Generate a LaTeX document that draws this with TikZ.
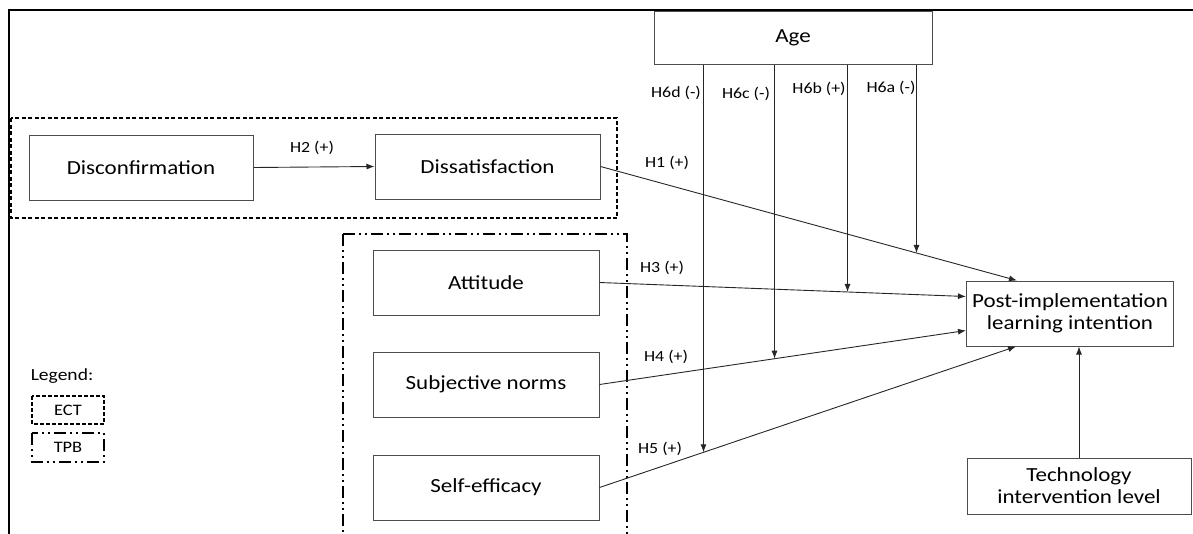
\documentclass[tikz,border=0pt]{standalone}
\usepackage{fontspec}
\setmainfont{Carlito}[FakeStretch=1.15]
\usetikzlibrary{arrows.meta,intersections,calc}
\tikzset{
  box/.style={draw=black!70, line width=1pt, inner sep=0pt, align=center, font=\fontsize{20}{22}\selectfont},
  hlab/.style={inner sep=0pt, font=\fontsize{15.5}{17}\selectfont},
  conn/.style={draw=black!85, line width=0.9pt, -{Latex[length=8pt,width=6pt]}},
  ectline/.style={draw=black, line width=1.5pt, dash pattern=on 4pt off 2.5pt},
  tpbline/.style={draw=black, line width=1.5pt, dash pattern=on 12pt off 4pt on 2pt off 4pt on 2pt off 4pt},
}
\begin{document}
\begin{tikzpicture}[x=1pt,y=-1pt]
\useasboundingbox (0,0) rectangle (1193,533);
% frame
\draw[line width=2pt] (9,534) -- (9,10) -- (1194,10);
% groups
\draw[ectline] (11,118) rectangle (617,218);
\draw[tpbline] (343,234) -- (627,234) -- (627,540) (343,234) -- (343,540);
% nodes
\node[box, minimum width=278pt, minimum height=53pt] (age) at (793,37.5) {Age};
\node[box, minimum width=224pt, minimum height=65pt] (disc) at (141,167.5) {Disconfirmation};
\node[box, minimum width=225pt, minimum height=65pt] (diss) at (487.5,166.5) {Dissatisfaction};
\node[box, minimum width=226pt, minimum height=65pt] (att) at (486,282.5) {Attitude};
\node[box, minimum width=226pt, minimum height=65pt] (sub) at (486,384.5) {Subjective norms};
\node[box, minimum width=226pt, minimum height=65pt] (self) at (486,487.5) {Self-efficacy};
\node[box, minimum width=207pt, minimum height=65pt] (post) at (1070,313.5) {Post-implementation\\learning intention};
\node[box, minimum width=224pt, minimum height=56pt] (tech) at (1079,486) {Technology\\intervention level};
% main connectors
\draw[conn] (disc.east) -- (diss.west);
\path[name path=h1] (diss.east) -- ($(post.north west)+(51,0)$);
\draw[conn] (diss.east) -- ($(post.north west)+(51,0)$);
\path[name path=h3] (att.east) -- ($(post.west)+(0,-17)$);
\draw[conn] (att.east) -- ($(post.west)+(0,-17)$);
\path[name path=h4] (sub.east) -- ($(post.west)+(0,17)$);
\draw[conn] (sub.east) -- ($(post.west)+(0,17)$);
\path[name path=h5] (self.east) -- ($(post.south west)+(50,0)$);
\draw[conn] (self.east) -- ($(post.south west)+(50,0)$);
\draw[conn] (tech.north) -- (post.south -| tech.north);
% moderators
\coordinate (m6d) at ($(age.south west)+(50,0)$);
\coordinate (m6c) at ($(age.south west)+(121,0)$);
\coordinate (m6b) at ($(age.south west)+(194,0)$);
\coordinate (m6a) at ($(age.south west)+(263,0)$);
\path[name path=v6d] (m6d) -- ++(0,500);
\path[name path=v6c] (m6c) -- ++(0,500);
\path[name path=v6b] (m6b) -- ++(0,500);
\path[name path=v6a] (m6a) -- ++(0,500);
\path[name intersections={of=v6d and h5, by=i6d}];
\path[name intersections={of=v6c and h4, by=i6c}];
\path[name intersections={of=v6b and h3, by=i6b}];
\path[name intersections={of=v6a and h1, by=i6a}];
\draw[conn] (m6d) -- (i6d);
\draw[conn] (m6c) -- (i6c);
\draw[conn] (m6b) -- (i6b);
\draw[conn] (m6a) -- (i6a);
% labels
\node[hlab] (l2) at (312,148) {H2 (+)};
\node[hlab] (l1) at (667,163) {H1 (+)};
\node[hlab] (l3) at (662,268) {H3 (+)};
\node[hlab] (l4) at (666,357) {H4 (+)};
\node[hlab] (l5) at (660,449) {H5 (+)};
\node[hlab] (l6d) at (676,93) {H6d (-)};
\node[hlab] (l6c) at (746,94) {H6c (-)};
\node[hlab] (l6b) at (819,89) {H6b (+)};
\node[hlab] (l6a) at (891,88) {H6a (-)};
% legend
\node[inner sep=0pt, font=\fontsize{17}{19}\selectfont] (leg) at (62,376) {Legend:};
\draw[draw=black, line width=1.3pt, dash pattern=on 4pt off 2pt] (32,396) rectangle (104,424);
\node[hlab, font=\fontsize{16}{18}\selectfont] (ect) at (68,410) {ECT};
\draw[draw=black, line width=1.3pt, dash pattern=on 12pt off 4pt on 2pt off 4pt on 2pt off 4pt] (32,433) rectangle (104,462);
\node[hlab, font=\fontsize{16}{18}\selectfont] (tpb) at (68,447) {TPB};
\end{tikzpicture}
\end{document}
